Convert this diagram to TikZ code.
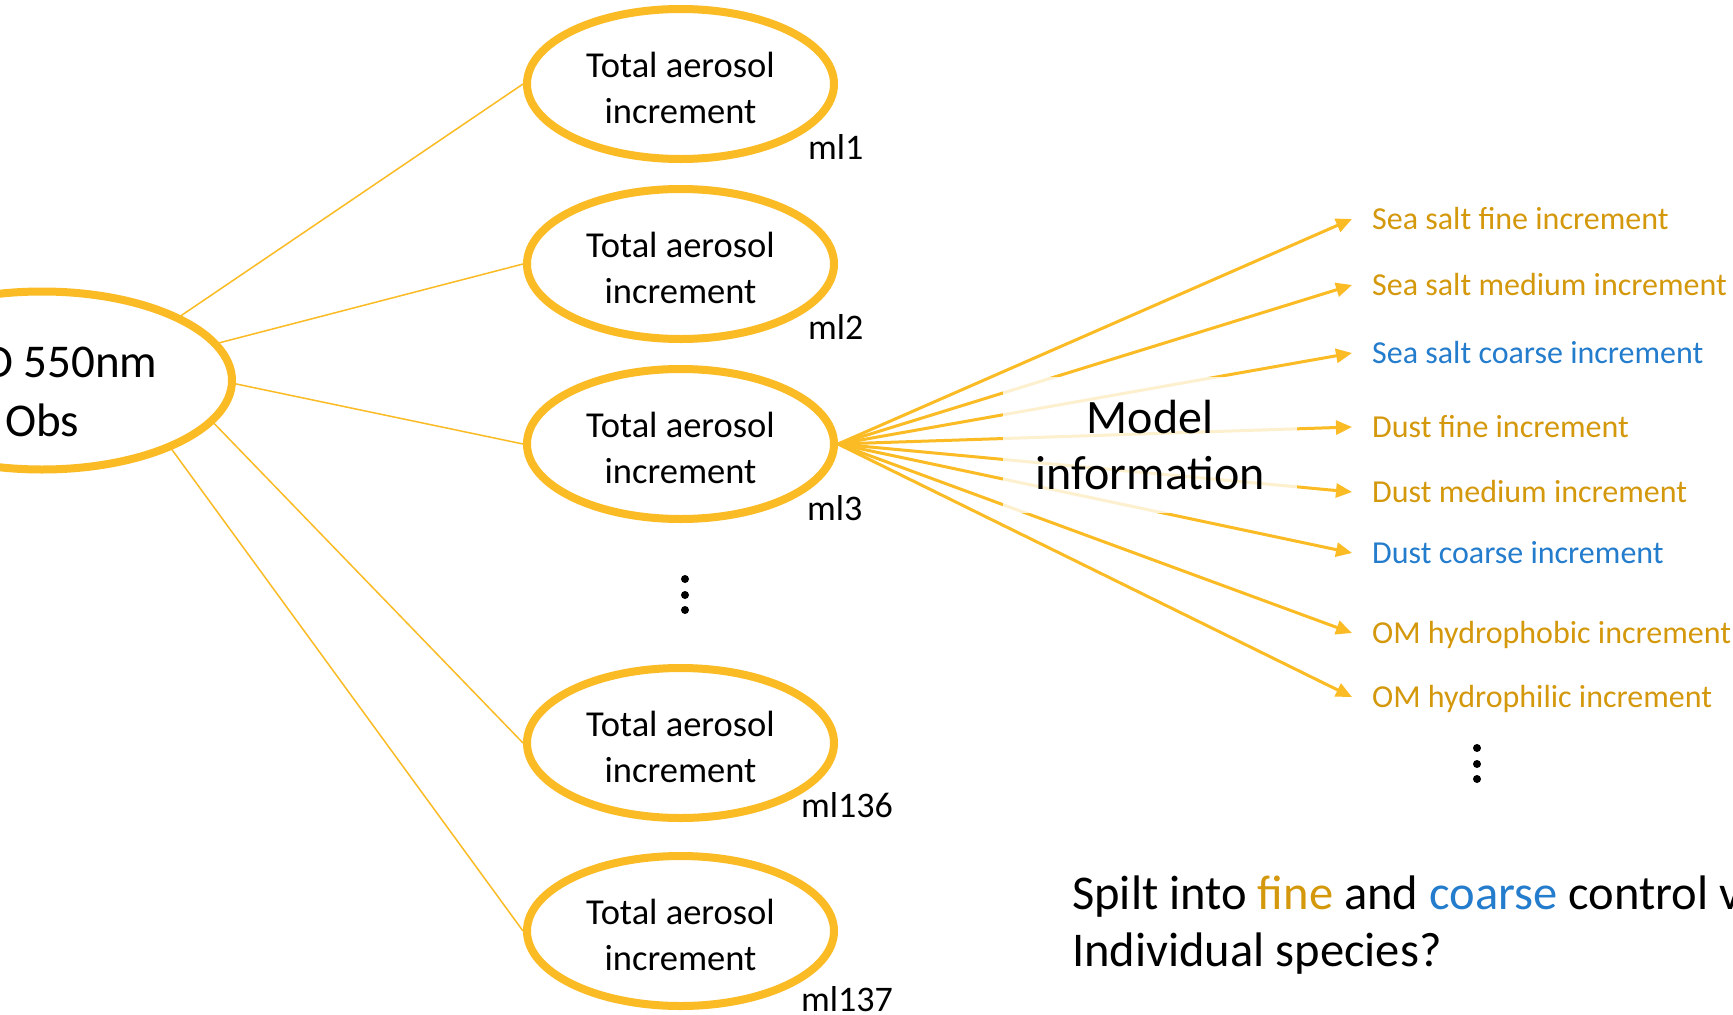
\documentclass[tikz,border=0pt]{standalone}
\usepackage{fontspec}
\setmainfont{Carlito}
\usetikzlibrary{shapes.geometric,arrows.meta}
\definecolor{gold}{RGB}{250,187,36}
\definecolor{goldtext}{RGB}{212,152,12}
\definecolor{bluetext}{RGB}{36,124,204}
\begin{document}
\begin{tikzpicture}[x=1pt,y=-1pt,
  inc/.style={ellipse, draw=gold, line width=8pt, minimum width=307pt, minimum height=150pt, inner sep=0pt, align=center, font=\fontsize{36.5}{46}\selectfont},
  mlab/.style={anchor=west, inner sep=0pt, font=\fontsize{36}{42}\selectfont},
  thinline/.style={draw=gold, line width=1.5pt},
  arr/.style={draw=gold, line width=3pt, -{Triangle[length=16pt,width=14pt]}},
  spec/.style={anchor=west, inner xsep=20pt, inner ysep=0pt, text height=24pt, text depth=4pt, font=\fontsize{32}{40}\selectfont},
  dotmark/.style={fill=black}
]
\fill[white] (0,0) rectangle (1733,1015);
\useasboundingbox (0,0) rectangle (1733,1015);

% observation
\node[ellipse, draw=gold, line width=8pt, minimum width=380pt, minimum height=178pt, inner sep=0pt, align=center, font=\fontsize{47}{59}\selectfont] (obs) at (42,380.5) {\rule{0pt}{54pt}AOD 550nm\\Obs};

% model level increments
\node[inc] (m1) at (680.5,84) {\rule{0pt}{33pt}Total aerosol\\increment};
\node[inc] (m2) at (680.5,264) {\rule{0pt}{33pt}Total aerosol\\increment};
\node[inc] (m3) at (680.5,444) {\rule{0pt}{33pt}Total aerosol\\increment};
\node[inc] (m136) at (680.5,743) {\rule{0pt}{33pt}Total aerosol\\increment};
\node[inc] (m137) at (680.5,931) {\rule{0pt}{33pt}Total aerosol\\increment};

\node[mlab] (l1) at (808,147) {ml1};
\node[mlab] (l2) at (808,327) {ml2};
\node[mlab] (l3) at (807,508) {ml3};
\node[mlab] (l136) at (801,805) {ml136};
\node[mlab] (l137) at (801,999) {ml137};

\draw[thinline] (obs.25) -- (m1.west);
\draw[thinline] (obs.12) -- (m2.west);
\draw[thinline] (obs.-1) -- (m3.west);
\draw[thinline] (obs.-14) -- (m136.west);
\draw[thinline] (obs.-28) -- (m137.west);

% vertical dots
\fill[dotmark] (685,579) circle (4pt);
\fill[dotmark] (685,595) circle (4pt);
\fill[dotmark] (685,610) circle (4pt);
\fill[dotmark] (1477,748) circle (4pt);
\fill[dotmark] (1477,764) circle (4pt);
\fill[dotmark] (1477,779) circle (4pt);

% species
\node[spec, text=goldtext] (s1) at (1352,219) {Sea salt fine increment};
\node[spec, text=goldtext] (s2) at (1352,285) {Sea salt medium increment};
\node[spec, text=bluetext] (s3) at (1352,353) {Sea salt coarse increment};
\node[spec, text=goldtext] (s4) at (1352,427) {Dust fine increment};
\node[spec, text=goldtext] (s5) at (1352,492) {Dust medium increment};
\node[spec, text=bluetext] (s6) at (1352,553) {Dust coarse increment};
\node[spec, text=goldtext] (s7) at (1352,633) {OM hydrophobic increment};
\node[spec, text=goldtext] (s8) at (1352,697) {OM hydrophilic increment};

\foreach \s in {s1,s2,s3,s4,s5,s6,s7,s8}
  \draw[arr] (m3.east) -- (\s.west);

\node[fill=white, fill opacity=0.78, text opacity=1, minimum width=294pt, minimum height=136pt, inner sep=0pt, align=center, font=\fontsize{48}{56}\selectfont] (mi) at (1150,445) {Model\\information};

\node[anchor=west, inner sep=0pt, align=left, font=\fontsize{48.5}{57}\selectfont] (q) at (1072,925) {Spilt into \textcolor{goldtext}{fine} and \textcolor{bluetext}{coarse} control v\\Individual species?};
\end{tikzpicture}
\end{document}
